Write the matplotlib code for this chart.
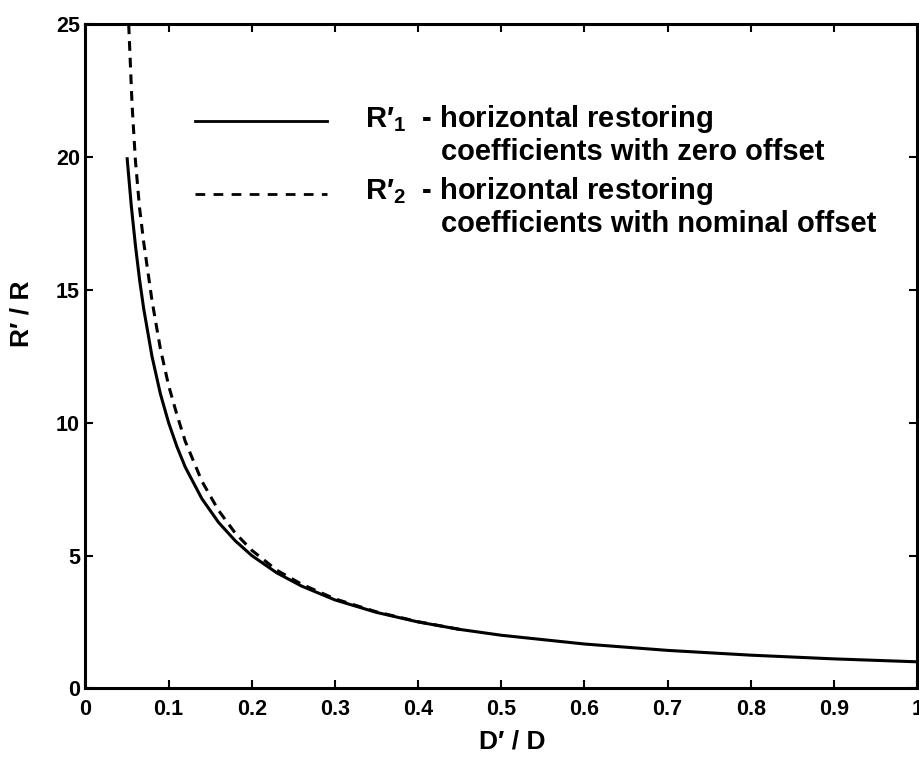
import matplotlib
matplotlib.use("Agg")
import matplotlib.pyplot as plt

plt.rcParams['font.family'] = ['Liberation Sans', 'DejaVu Sans']
plt.rcParams['mathtext.fontset'] = 'custom'
plt.rcParams['mathtext.rm'] = 'Liberation Sans:bold'
plt.rcParams['lines.scale_dashes'] = False

# R'1 - zero offset (solid)
x_r1 = [0.05, 0.055, 0.06, 0.065, 0.07, 0.08, 0.09, 0.10, 0.11, 0.12, 0.14,
        0.16, 0.18, 0.20, 0.23, 0.26, 0.30, 0.35, 0.40, 0.45, 0.50, 0.60,
        0.70, 0.80, 0.90, 1.00]
y_r1 = [20.0, 18.2, 16.7, 15.4, 14.3, 12.5, 11.1, 10.0, 9.1, 8.33, 7.14,
        6.25, 5.56, 5.0, 4.35, 3.85, 3.33, 2.86, 2.5, 2.22, 2.0, 1.67,
        1.43, 1.25, 1.11, 1.0]

# R'2 - nominal offset (dashed)
x_r2 = [0.052, 0.056, 0.06, 0.065, 0.07, 0.08, 0.09, 0.10, 0.11, 0.12, 0.14,
        0.16, 0.18, 0.20, 0.23, 0.26, 0.30, 0.35, 0.40, 0.45]
y_r2 = [25.0, 22.0, 19.9, 18.1, 16.8, 14.6, 12.8, 11.4, 10.3, 9.3, 7.8,
        6.7, 5.85, 5.2, 4.45, 3.92, 3.37, 2.88, 2.51, 2.22]

xticks = [0, 0.1, 0.2, 0.3, 0.4, 0.5, 0.6, 0.7, 0.8, 0.9, 1]
xtick_labels = ['0', '0.1', '0.2', '0.3', '0.4', '0.5', '0.6', '0.7', '0.8', '0.9', '1']
yticks = [0, 5, 10, 15, 20, 25]

fig = plt.figure(figsize=(9.19, 7.64), dpi=100)
ax = fig.add_axes([0.093, 0.099, 0.905, 0.869])

ax.plot(x_r1, y_r1, color='black', lw=2.2, solid_capstyle='butt')
ax.plot(x_r2, y_r2, color='black', lw=2.2, dashes=(7, 5))

ax.set_xlim(0, 1)
ax.set_ylim(0, 25)
ax.set_xticks(xticks)
ax.set_xticklabels(xtick_labels)
ax.set_yticks(yticks)
ax.tick_params(direction='in', length=6, width=1.5, top=True, right=True,
               labelsize=15.5)
ax.tick_params(axis='x', pad=8)
ax.tick_params(axis='y', pad=4)
for lab in ax.get_xticklabels() + ax.get_yticklabels():
    lab.set_fontweight('bold')
for s in ax.spines.values():
    s.set_linewidth(2.2)

ax.set_xlabel("D\u2032 / D", fontsize=19, fontweight='bold')
ax.set_ylabel("R\u2032 / R", fontsize=19, fontweight='bold')
ax.xaxis.set_label_coords(0.513, -0.062)
ax.yaxis.set_label_coords(-0.062, 0.565)

# legend drawn by hand
ax.plot([0.132, 0.29], [0.855, 0.855], transform=ax.transAxes,
        color='black', lw=2.0)
ax.plot([0.132, 0.29], [0.744, 0.744], transform=ax.transAxes,
        color='black', lw=2.0, dashes=(7, 6))

ax.text(0.336, 0.846, "R\u2032$_{1}$  - horizontal restoring", transform=ax.transAxes,
        fontsize=21, fontweight='bold', va='baseline')
ax.text(0.428, 0.796, "coefficients with zero offset", transform=ax.transAxes,
        fontsize=21, fontweight='bold', va='baseline')
ax.text(0.336, 0.737, "R\u2032$_{2}$  - horizontal restoring", transform=ax.transAxes,
        fontsize=21, fontweight='bold', va='baseline')
ax.text(0.428, 0.688, "coefficients with nominal offset", transform=ax.transAxes,
        fontsize=21, fontweight='bold', va='baseline')

fig.savefig("out.png", dpi=100)
